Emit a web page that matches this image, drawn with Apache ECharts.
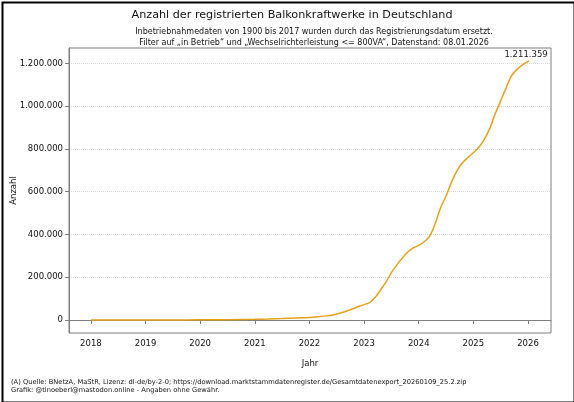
<!DOCTYPE html>
<html>
<head>
<meta charset="utf-8">
<script src="https://cdn.jsdelivr.net/npm/echarts@6/dist/echarts.min.js"></script>
<style>
html,body{margin:0;padding:0;background:#fff;}
#chart{width:574px;height:402px;}
</style>
</head>
<body>
<div id="chart"></div>
<script>
const years = [2018.0, 2018.5, 2019.0, 2019.5, 2020.0, 2020.5, 2021.0, 2021.25, 2021.5, 2021.75,
  2022.0, 2022.15, 2022.3, 2022.45, 2022.6, 2022.75, 2022.9, 2023.0, 2023.1, 2023.2,
  2023.3, 2023.4, 2023.5, 2023.6, 2023.7, 2023.8, 2023.9, 2024.0, 2024.1, 2024.2,
  2024.3, 2024.4, 2024.5, 2024.6, 2024.7, 2024.8, 2024.9, 2025.0, 2025.1, 2025.2,
  2025.3, 2025.4, 2025.5, 2025.6, 2025.7, 2025.8, 2025.9, 2026.02];
const counts = [0, 100, 300, 600, 1000, 1800, 3500, 5000, 7000, 9500,
  12000, 15000, 19500, 25000, 35000, 48000, 63000, 72000, 82000, 105000,
  140000, 177000, 222000, 258000, 290000, 318000, 337000, 349000, 366000, 392000,
  450000, 525000, 580000, 645000, 697000, 735000, 760000, 782000, 808000, 845000,
  895000, 965000, 1025000, 1085000, 1143000, 1172000, 1193000, 1211359];
const xTicks = [2018, 2019, 2020, 2021, 2022, 2023, 2024, 2025, 2026];
const yTicks = [0, 200000, 400000, 600000, 800000, 1000000, 1200000];

const title = 'Anzahl der registrierten Balkonkraftwerke in Deutschland';
const subtitle = 'Inbetriebnahmedaten von 1900 bis 2017 wurden durch das Registrierungsdatum ersetzt.\nFilter auf „in Betrieb“ und „Wechselrichterleistung <= 800VA“, Datenstand: 08.01.2026';
const footer = '(A) Quelle: BNetzA, MaStR, Lizenz: dl-de/by-2-0; https://download.marktstammdatenregister.de/Gesamtdatenexport_20260109_25.2.zip\nGrafik: @tinoeberl@mastodon.online - Angaben ohne Gewähr.';

function de(n){ return String(Math.round(n)).replace(/\B(?=(\d{3})+(?!\d))/g, '.'); }

const lastIdx = years.length - 1;
const yMaxData = Math.max(...counts);
const yPad = yMaxData * 0.05;
const xPad = (years[lastIdx] - years[0]) * 0.05;

const chart = echarts.init(document.getElementById('chart'), null, {renderer: 'canvas'});
const gridColor = '#7f7f7f';
chart.setOption({
  animation: false,
  backgroundColor: '#fff',
  textStyle: { fontFamily: 'DejaVu Sans' },
  title: [
    { text: title, left: 287, top: 5, textAlign: 'center',
      textStyle: { fontSize: 11.2, fontWeight: 'normal', color: '#111', fontFamily: 'DejaVu Sans' } },
    { text: subtitle, left: 309, top: 21, textAlign: 'center',
      textStyle: { fontSize: 8, fontWeight: 'normal', color: '#111', lineHeight: 11, fontFamily: 'DejaVu Sans' } },
    { text: footer, left: 6, top: 373,
      textStyle: { fontSize: 6.7, fontWeight: 'normal', color: '#111', lineHeight: 8.5, fontFamily: 'DejaVu Sans' } }
  ],
  grid: { left: 69, right: 23, top: 48, bottom: 69, show: true, borderColor: gridColor, borderWidth: 1,
    backgroundColor: 'transparent', containLabel: false, outerBoundsMode: 'none' },
  xAxis: {
    type: 'value',
    min: years[0] - xPad, max: years[lastIdx] + xPad,
    name: 'Jahr', nameLocation: 'middle', nameGap: 26, nameMoveOverlap: false,
    nameTextStyle: { fontSize: 8.5, color: '#111' },
    axisLine: { show: true, lineStyle: { color: gridColor } },
    axisTick: { show: true, customValues: xTicks, length: 4, lineStyle: { color: gridColor } },
    axisLabel: { customValues: xTicks, formatter: v => String(Math.round(v)), fontSize: 8.5, color: '#111', margin: 6 },
    splitLine: { show: false }
  },
  yAxis: {
    type: 'value',
    min: -yPad, max: yMaxData + yPad,
    name: 'Anzahl', nameLocation: 'middle', nameGap: 51, nameRotate: 90, nameMoveOverlap: false,
    nameTextStyle: { fontSize: 8.5, color: '#111' },
    axisLine: { show: true, lineStyle: { color: gridColor } },
    axisTick: { show: true, customValues: yTicks, length: 4, lineStyle: { color: gridColor } },
    axisLabel: { customValues: yTicks, formatter: v => de(v), fontSize: 8.5, color: '#111', margin: 6 },
    splitLine: { show: true, lineStyle: { color: '#d8d8d8', type: 'dotted', width: 1 } }
  },
  series: [{
    type: 'line',
    data: years.map((y, i) => [y, counts[i]]),
    showSymbol: false,
    symbol: 'none',
    smooth: 0.3,
    lineStyle: { color: '#e3a21a', width: 1.5 },
    itemStyle: { color: '#e3a21a' },
    markPoint: {
      symbol: 'circle', symbolSize: 0, silent: true,
      data: [{ coord: [years[lastIdx], counts[lastIdx]], value: counts[lastIdx] }],
      label: { show: true, position: 'top', distance: 2, offset: [-3, 0],
        formatter: p => de(p.value), color: '#222', fontSize: 8.5, fontFamily: 'DejaVu Sans' }
    }
  }],
  graphic: [{
    type: 'rect', left: 0, top: 0, z: 100,
    shape: { x: 1, y: 1, width: 572, height: 400 },
    style: { fill: 'none', stroke: '#000', lineWidth: 2 }
  }]
});
</script>
</body>
</html>
